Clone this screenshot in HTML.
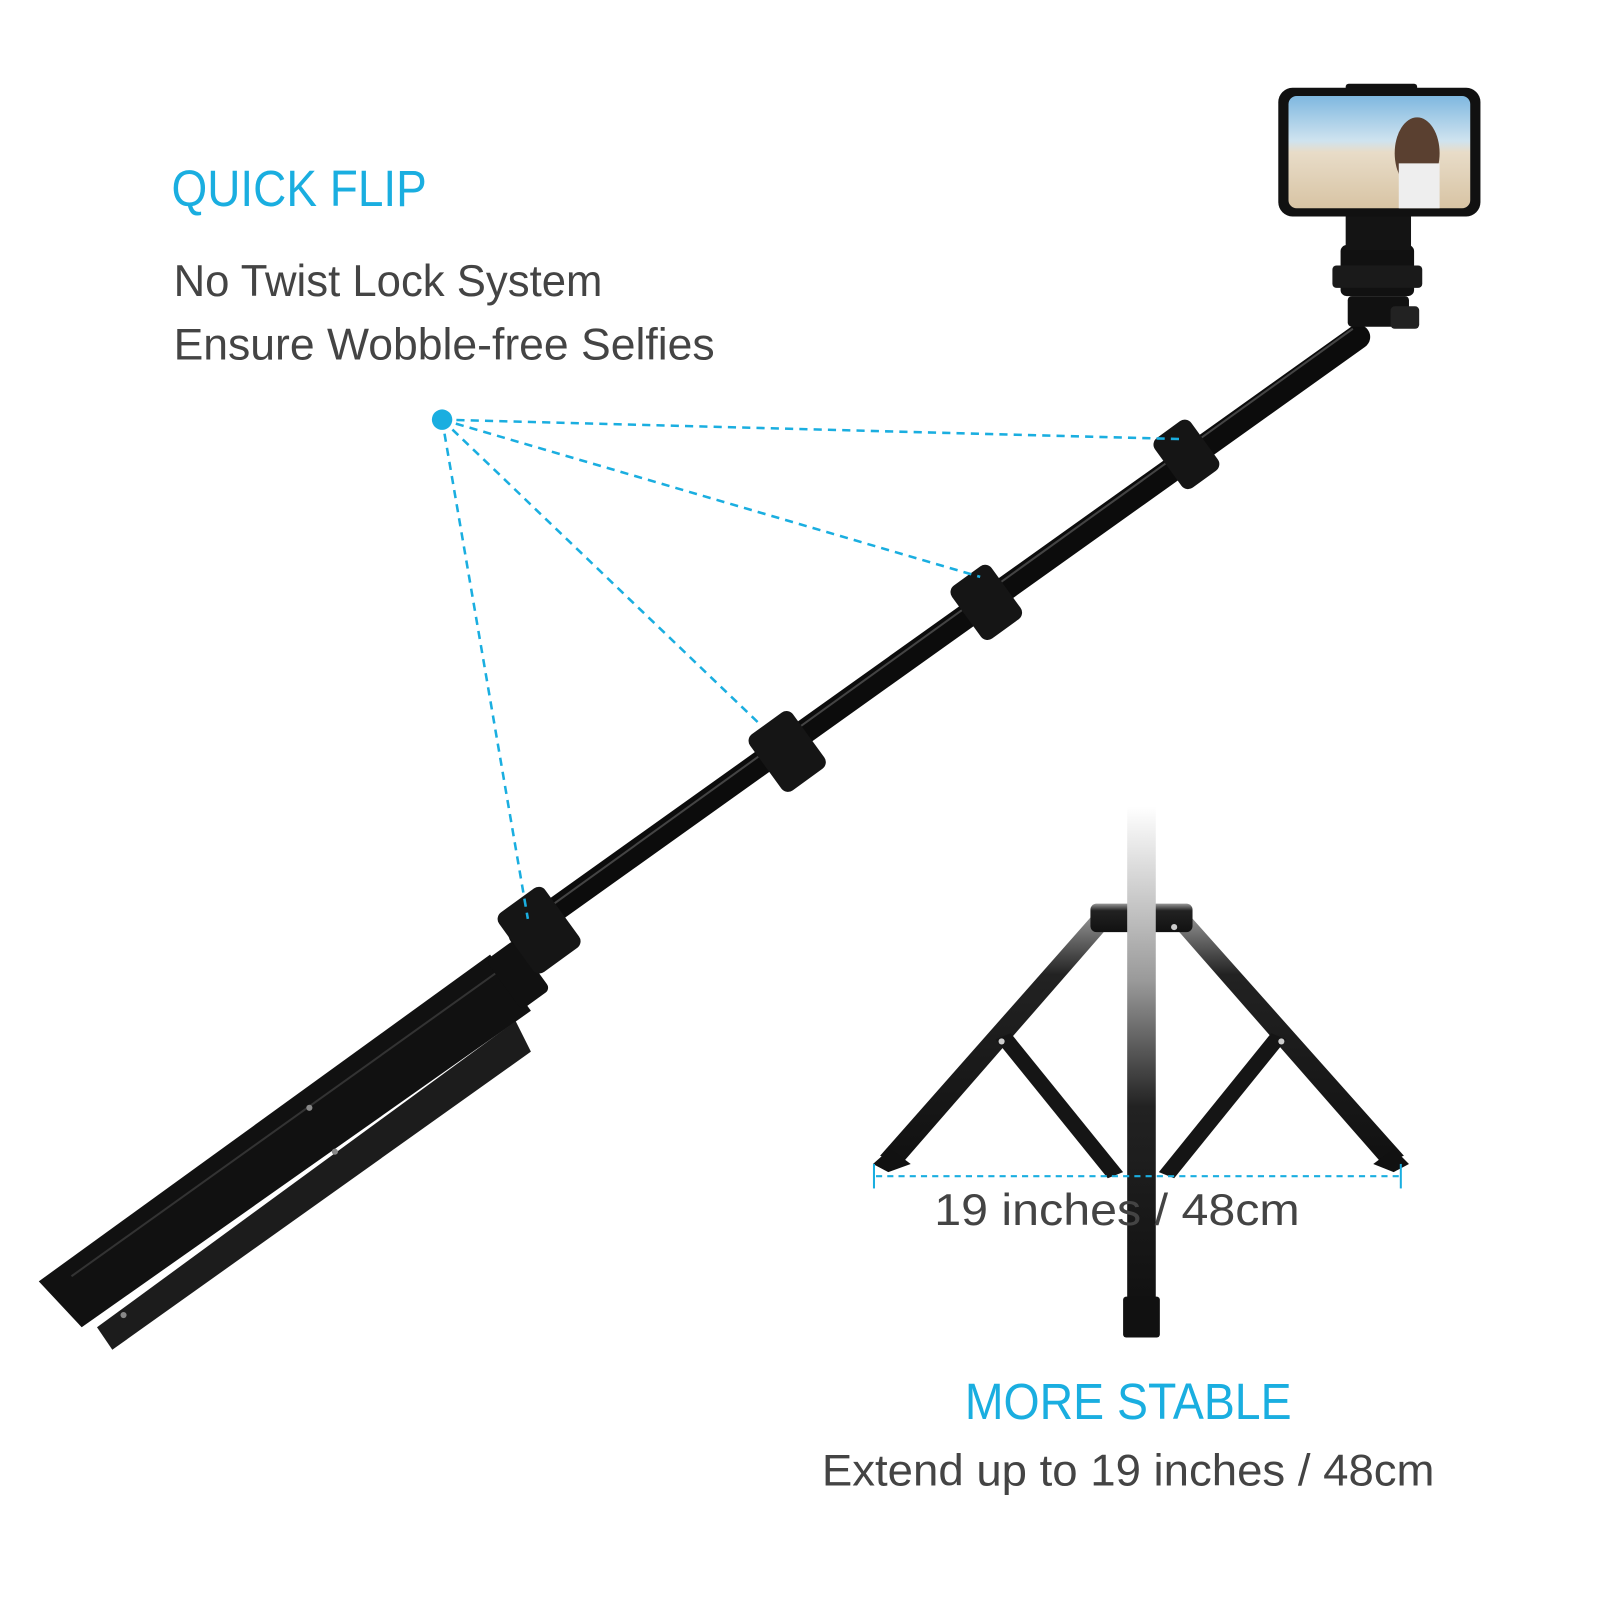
<!DOCTYPE html>
<html><head><meta charset="utf-8"><style>
html,body{margin:0;padding:0;background:#fff;width:1600px;height:1600px;overflow:hidden}
svg{display:block}
text{font-family:"Liberation Sans",sans-serif}
</style></head><body>
<svg width="1600" height="1600" viewBox="0 0 1600 1600" xmlns="http://www.w3.org/2000/svg">
<defs>
<linearGradient id="fade" x1="0" y1="0" x2="0" y2="1">
<stop offset="0" stop-color="#fff"/><stop offset="0.35" stop-color="#999"/><stop offset="0.6" stop-color="#222"/><stop offset="1" stop-color="#111"/></linearGradient>
<linearGradient id="legfade" x1="0" y1="0" x2="0" y2="1">
<stop offset="0" stop-color="#999"/><stop offset="0.25" stop-color="#222"/><stop offset="1" stop-color="#111"/></linearGradient>
<linearGradient id="scr" x1="0" y1="0" x2="0" y2="1">
<stop offset="0" stop-color="#7fb8e0"/><stop offset="0.4" stop-color="#cfe3ef"/><stop offset="0.5" stop-color="#e8dcc8"/><stop offset="1" stop-color="#d8c4a4"/></linearGradient>
</defs>
<g transform="scale(1.021)">
<text x="168" y="202" font-size="50" fill="#1aaee0" textLength="250" lengthAdjust="spacingAndGlyphs">QUICK FLIP</text>
<text x="170" y="290" font-size="44" fill="#444" textLength="420" lengthAdjust="spacingAndGlyphs">No Twist Lock System</text>
<text x="170" y="352" font-size="44" fill="#444" textLength="530" lengthAdjust="spacingAndGlyphs">Ensure Wobble-free Selfies</text>

<!-- folded tripod -->
<polygon points="38,1255 480,935 520,990 80,1300" fill="#111"/>
<polygon points="95,1300 505,1000 520,1030 110,1322" fill="#1c1c1c"/>
<line x1="70" y1="1250" x2="490" y2="950" stroke="#333" stroke-width="2"/>
<circle cx="303" cy="1085" r="3" fill="#888"/><circle cx="328" cy="1128" r="3" fill="#888"/>
<circle cx="121" cy="1288" r="3" fill="#888"/>
<rect x="490" y="925" width="35" height="60" rx="6" fill="#111" transform="rotate(-36 507 955)"/>

<!-- pole -->
<line x1="510" y1="915" x2="1330" y2="330" stroke="#0c0c0c" stroke-width="24" stroke-linecap="round"/>
<line x1="515" y1="905" x2="1325" y2="322" stroke="#444" stroke-width="2"/>
<g fill="#151515">
<rect x="1140" y="415" width="44" height="60" rx="8" transform="rotate(-36 1162 445)"/>
<rect x="942" y="558" width="48" height="64" rx="8" transform="rotate(-36 966 590)"/>
<rect x="745" y="702" width="52" height="68" rx="8" transform="rotate(-36 771 736)"/>
<rect x="500" y="875" width="56" height="72" rx="8" transform="rotate(-36 528 911)"/>
</g>

<!-- mount & phone -->
<rect x="1313" y="240" width="72" height="50" rx="6" fill="#111"/>
<rect x="1305" y="260" width="88" height="22" rx="4" fill="#1a1a1a"/>
<rect x="1320" y="290" width="60" height="30" rx="4" fill="#111"/>
<rect x="1362" y="300" width="28" height="22" rx="4" fill="#222"/>
<rect x="1318" y="195" width="64" height="50" fill="#141414"/>
<rect x="1318" y="82" width="70" height="14" rx="3" fill="#111"/>
<rect x="1252" y="86" width="198" height="126" rx="14" fill="#111"/>
<rect x="1262" y="94" width="178" height="110" rx="8" fill="url(#scr)"/>
<ellipse cx="1388" cy="150" rx="22" ry="35" fill="#5a4030"/>
<rect x="1370" y="160" width="40" height="44" fill="#eee"/>

<!-- dashed lines -->
<g stroke="#1aaee0" stroke-width="2.5" stroke-dasharray="8,6" fill="none">
<line x1="433" y1="411" x2="1155" y2="430"/>
<line x1="433" y1="411" x2="960" y2="565"/>
<line x1="433" y1="411" x2="745" y2="710"/>
<line x1="433" y1="411" x2="517" y2="900"/>
</g>
<circle cx="433" cy="411" r="10" fill="#1aaee0"/>

<!-- standing tripod -->
<polygon points="1073,893 1094,898 883,1140 862,1132" fill="url(#legfade)"/>
<polygon points="1142,898 1162,893 1375,1132 1354,1140" fill="url(#legfade)"/>
<polygon points="975,1018 990,1012 1100,1148 1085,1154" fill="#151515"/>
<polygon points="1245,1012 1260,1018 1150,1154 1135,1148" fill="#151515"/>
<rect x="1068" y="885" width="100" height="28" rx="6" fill="url(#legfade)"/>
<rect x="1104" y="790" width="28" height="490" fill="url(#fade)"/>
<rect x="1100" y="1270" width="36" height="40" rx="3" fill="#111"/>
<polygon points="855,1140 872,1125 892,1140 870,1148" fill="#111"/>
<polygon points="1345,1140 1365,1125 1380,1140 1365,1148" fill="#111"/>
<circle cx="981" cy="1020" r="3" fill="#ccc"/><circle cx="1255" cy="1020" r="3" fill="#ccc"/>
<circle cx="1150" cy="908" r="3" fill="#ccc"/>

<!-- dimension -->
<line x1="858" y1="1152" x2="1370" y2="1152" stroke="#1aaee0" stroke-width="2" stroke-dasharray="6,5"/>
<line x1="856" y1="1140" x2="856" y2="1164" stroke="#1aaee0" stroke-width="2"/>
<line x1="1372" y1="1140" x2="1372" y2="1164" stroke="#1aaee0" stroke-width="2"/>
<text x="915" y="1200" font-size="44" fill="#444" textLength="358" lengthAdjust="spacingAndGlyphs">19 inches / 48cm</text>

<text x="945" y="1390" font-size="50" fill="#1aaee0" textLength="320" lengthAdjust="spacingAndGlyphs">MORE STABLE</text>
<text x="805" y="1455" font-size="44" fill="#444" textLength="600" lengthAdjust="spacingAndGlyphs">Extend up to 19 inches / 48cm</text>
</g>
</svg>
</body></html>
